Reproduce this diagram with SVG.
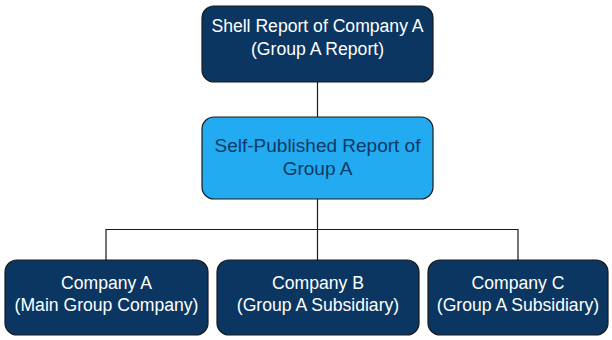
<svg xmlns="http://www.w3.org/2000/svg" width="612" height="340" viewBox="0 0 612 340">
<style>
.dark{fill:#0b3662;stroke:#1a1a1a;stroke-width:1.2}
.light{fill:#22abf0;stroke:#1a1a1a;stroke-width:1.2}
text{font-family:"Liberation Sans",Arial,sans-serif;font-size:17.6px;text-anchor:middle}
.wt{fill:#ffffff}
.dt{fill:#0d3a66;font-size:19px}
.conn{fill:none;stroke:#1a1a1a;stroke-width:1.2}
</style>
<rect width="612" height="340" fill="#ffffff"/>
<g id="connectors">
<line class="conn" x1="317.5" y1="82" x2="317.5" y2="117"/>
<polyline class="conn" points="317.5,199 317.5,229.5"/>
<polyline class="conn" points="106,260 106,229.5 518,229.5 518,260"/>
<line class="conn" x1="317.5" y1="229.5" x2="317.5" y2="260"/>
</g>
<g id="shell">
<rect class="dark" x="202" y="6" width="231" height="76" rx="12"/>
<text class="wt" x="317.5" y="32">Shell Report of Company A</text>
<text class="wt" x="317.5" y="55">(Group A Report)</text>
</g>
<g id="self">
<rect class="light" x="202" y="117" width="231" height="82" rx="12"/>
<text class="dt" x="317.5" y="152">Self-Published Report of</text>
<text class="dt" x="317.5" y="175">Group A</text>
</g>
<g id="companyA">
<rect class="dark" x="5" y="260" width="203" height="75" rx="12"/>
<text class="wt" x="106.5" y="289">Company A</text>
<text class="wt" x="106.5" y="311">(Main Group Company)</text>
</g>
<g id="companyB">
<rect class="dark" x="217" y="260" width="202" height="75" rx="12"/>
<text class="wt" x="318" y="289">Company B</text>
<text class="wt" x="318" y="311">(Group A Subsidiary)</text>
</g>
<g id="companyC">
<rect class="dark" x="428" y="260" width="180" height="75" rx="12"/>
<text class="wt" x="518" y="289">Company C</text>
<text class="wt" x="518" y="311">(Group A Subsidiary)</text>
</g>
</svg>
